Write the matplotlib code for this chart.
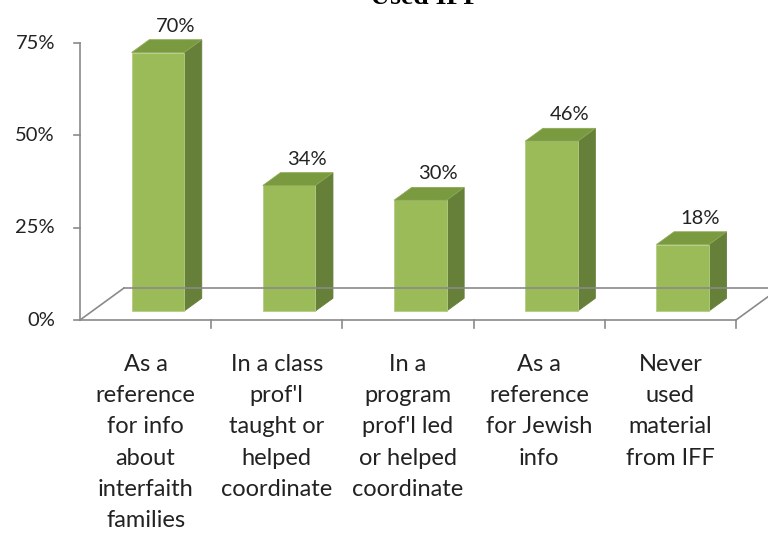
import matplotlib
matplotlib.use("Agg")
import matplotlib.pyplot as plt
from matplotlib.patches import Polygon

# --- data ---
categories = [
    "As a\nreference\nfor info\nabout\ninterfaith\nfamilies",
    "In a class\nprof'l\ntaught or\nhelped\ncoordinate",
    "In a\nprogram\nprof'l led\nor helped\ncoordinate",
    "As a\nreference\nfor Jewish\ninfo",
    "Never\nused\nmaterial\nfrom IFF",
]
values = [70, 34, 30, 46, 18]
yticks = [0, 25, 50, 75]
title = "Used IFF"

# --- styling ---
FRONT = "#9BBB59"
SIDE = "#66803A"
TOP = "#7A9A40"
AXIS = "#8A8A8A"
FONT = "Lato"

W, H = 768, 535
fig = plt.figure(figsize=(W / 100, H / 100), dpi=100)
# axes frame = front floor line (x 80..736 px) up to the 75% tick (y 43 px)
ax = fig.add_axes([80 / W, (H - 320) / H, 656 / W, 277 / H])
ax.set_xlim(0, len(values))
ax.set_ylim(0, 75)
ax.axis("off")

px_x = 656 / len(values)   # pixels per category
px_y = 277 / 75            # pixels per percent
ddx, ddy = 44 / px_x, 32 / px_y  # floor depth in data units

# floor outline
n = len(values)
ax.plot([0, n], [0, 0], color=AXIS, lw=1.2, clip_on=False)
ax.plot([0, ddx], [0, ddy], color=AXIS, lw=1.2, clip_on=False)
ax.plot([ddx, n + ddx], [ddy, ddy], color=AXIS, lw=1.2, clip_on=False)
ax.plot([n, n + ddx], [0, ddy], color=AXIS, lw=1.2, clip_on=False)

# value axis on the left
ax.plot([0, 0], [0, 75], color=AXIS, lw=1.2, clip_on=False)
tl = 6 / px_x
for t in yticks:
    ax.plot([-tl, 0], [t, t], color=AXIS, lw=1.2, clip_on=False)
    ax.text(-25 / px_x, t, f"{t}%", ha="right", va="center",
            fontsize=14.5, family=FONT, color="#222222")
# category ticks
for i in range(1, n + 1):
    ax.plot([i, i], [0, -8 / px_y], color=AXIS, lw=1.2, clip_on=False)

# 3D bars, set in the middle of the floor depth
f0, f1 = 0.28, 0.68
bw = 0.40
for i, v in enumerate(values):
    x0 = i + 0.5 - bw / 2 + f0 * ddx
    y0 = f0 * ddy
    x1 = x0 + bw
    sx = (f1 - f0) * ddx
    sy = (f1 - f0) * ddy
    front = Polygon([(x0, y0), (x1, y0), (x1, y0 + v), (x0, y0 + v)],
                    closed=True, fc=FRONT, ec="#B5CC85", lw=0.6, clip_on=False)
    side = Polygon([(x1, y0), (x1 + sx, y0 + sy), (x1 + sx, y0 + sy + v), (x1, y0 + v)],
                   closed=True, fc=SIDE, ec=SIDE, lw=0.6, clip_on=False)
    top = Polygon([(x0, y0 + v), (x1, y0 + v), (x1 + sx, y0 + sy + v), (x0 + sx, y0 + sy + v)],
                  closed=True, fc=TOP, ec="#8DAA55", lw=0.6, clip_on=False)
    for p in (side, front, top):
        ax.add_patch(p)
    ax.text((x0 + x1) / 2 + sx, y0 + sy + v + 5 / px_y, f"{v}%",
            ha="center", va="bottom", fontsize=14.5, family=FONT, color="#222222")

# category labels
for i, lab in enumerate(categories):
    ax.text(i + 0.5, -34 / px_y, lab, ha="center", va="top", fontsize=17,
            family=FONT, color="#222222", linespacing=1.6)

fig.text(425 / W, 1 - 4 / H, title, ha="center", va="baseline",
         family="Liberation Serif", fontweight="bold", fontsize=20)

fig.savefig("out.png", dpi=100, facecolor="white")
